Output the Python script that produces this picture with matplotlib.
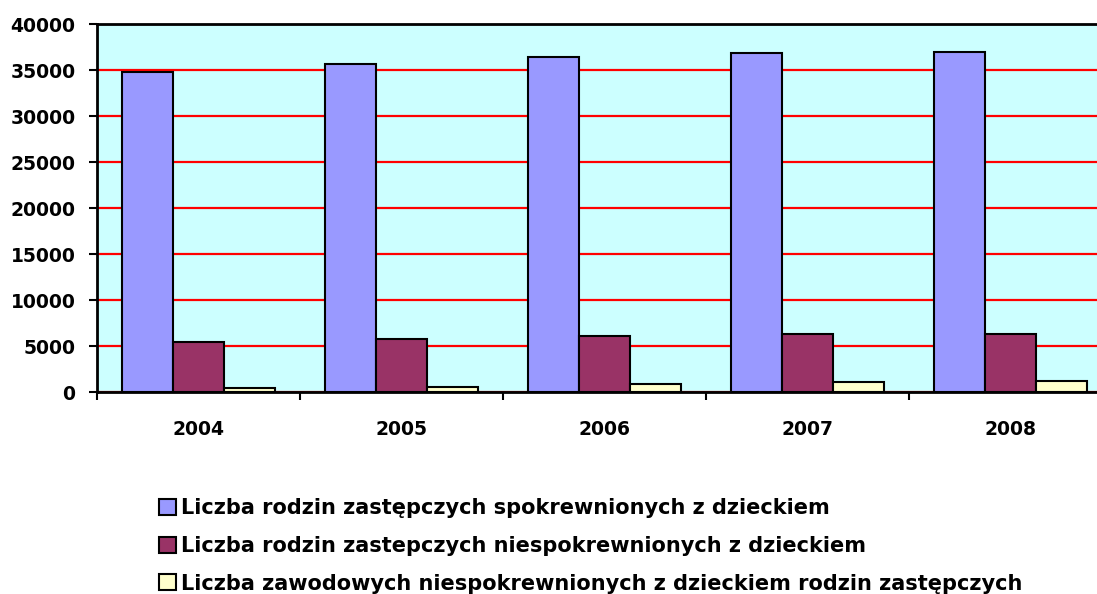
import numpy as np
import matplotlib
matplotlib.use("Agg")
import matplotlib.pyplot as plt
from matplotlib.patches import Patch

plt.rcParams['font.family'] = ['DejaVu Sans']

years = ["2004", "2005", "2006", "2007", "2008"]
spokrewnione = [34820, 35620, 36400, 36820, 36920]
niespokrewnione = [5430, 5760, 6130, 6300, 6310]
zawodowe = [400, 575, 840, 1090, 1230]
series_names = [
    "Liczba rodzin zastępczych spokrewnionych z dzieckiem",
    "Liczba rodzin zastepczych niespokrewnionych z dzieckiem",
    "Liczba zawodowych niespokrewnionych z dzieckiem rodzin zastępczych",
]
colors = ["#9999FF", "#993366", "#FFFFCC"]

fig = plt.figure(figsize=(10.97, 5.94), dpi=100)
ax = fig.add_axes([97 / 1097, 1 - 392 / 594, (1112 - 97) / 1097, (392 - 24) / 594])
ax.set_facecolor("#CCFFFF")

x = np.arange(len(years))
w = 0.25
for i, vals in enumerate([spokrewnione, niespokrewnione, zawodowe]):
    ax.bar(x + (i - 1) * w, vals, width=w, color=colors[i],
           edgecolor="black", linewidth=1.5, zorder=3)

ax.set_xlim(-0.5, len(years) - 0.5)
ax.set_ylim(0, 40000)
ax.set_yticks(np.arange(0, 40001, 5000))
ax.yaxis.grid(True, color="red", linewidth=1.6, zorder=1)
ax.set_axisbelow(True)

# boundaries get the outer ticks, category centres carry the labels
ax.set_xticks(np.arange(-0.5, len(years), 1.0))
ax.set_xticklabels([])
ax.set_xticks(x, minor=True)
ax.set_xticklabels(years, minor=True)
ax.tick_params(axis="x", which="major", direction="out", length=6, width=1.5)
ax.tick_params(axis="x", which="minor", direction="in", length=4, width=1.5, pad=20)
ax.tick_params(axis="y", direction="out", length=5.5, width=1.5, pad=10)
for lab in ax.get_yticklabels() + ax.get_xticklabels(minor=True):
    lab.set_fontsize(13.5)
    lab.set_fontweight("bold")

for s in ["top", "left", "bottom"]:
    ax.spines[s].set_linewidth(2)
ax.spines["right"].set_visible(False)

handles = [Patch(facecolor=c, edgecolor="black", linewidth=1.5) for c in colors]
fig.legend(handles, series_names, loc="upper left", bbox_to_anchor=(159 / 1097, 1 - 498.5 / 594),
           frameon=False, prop={"weight": "bold", "size": 15}, handlelength=0.8,
           handleheight=0.8, handletextpad=0.25, labelspacing=0.84, borderaxespad=0,
           borderpad=0)

fig.savefig("out.png", dpi=100)
